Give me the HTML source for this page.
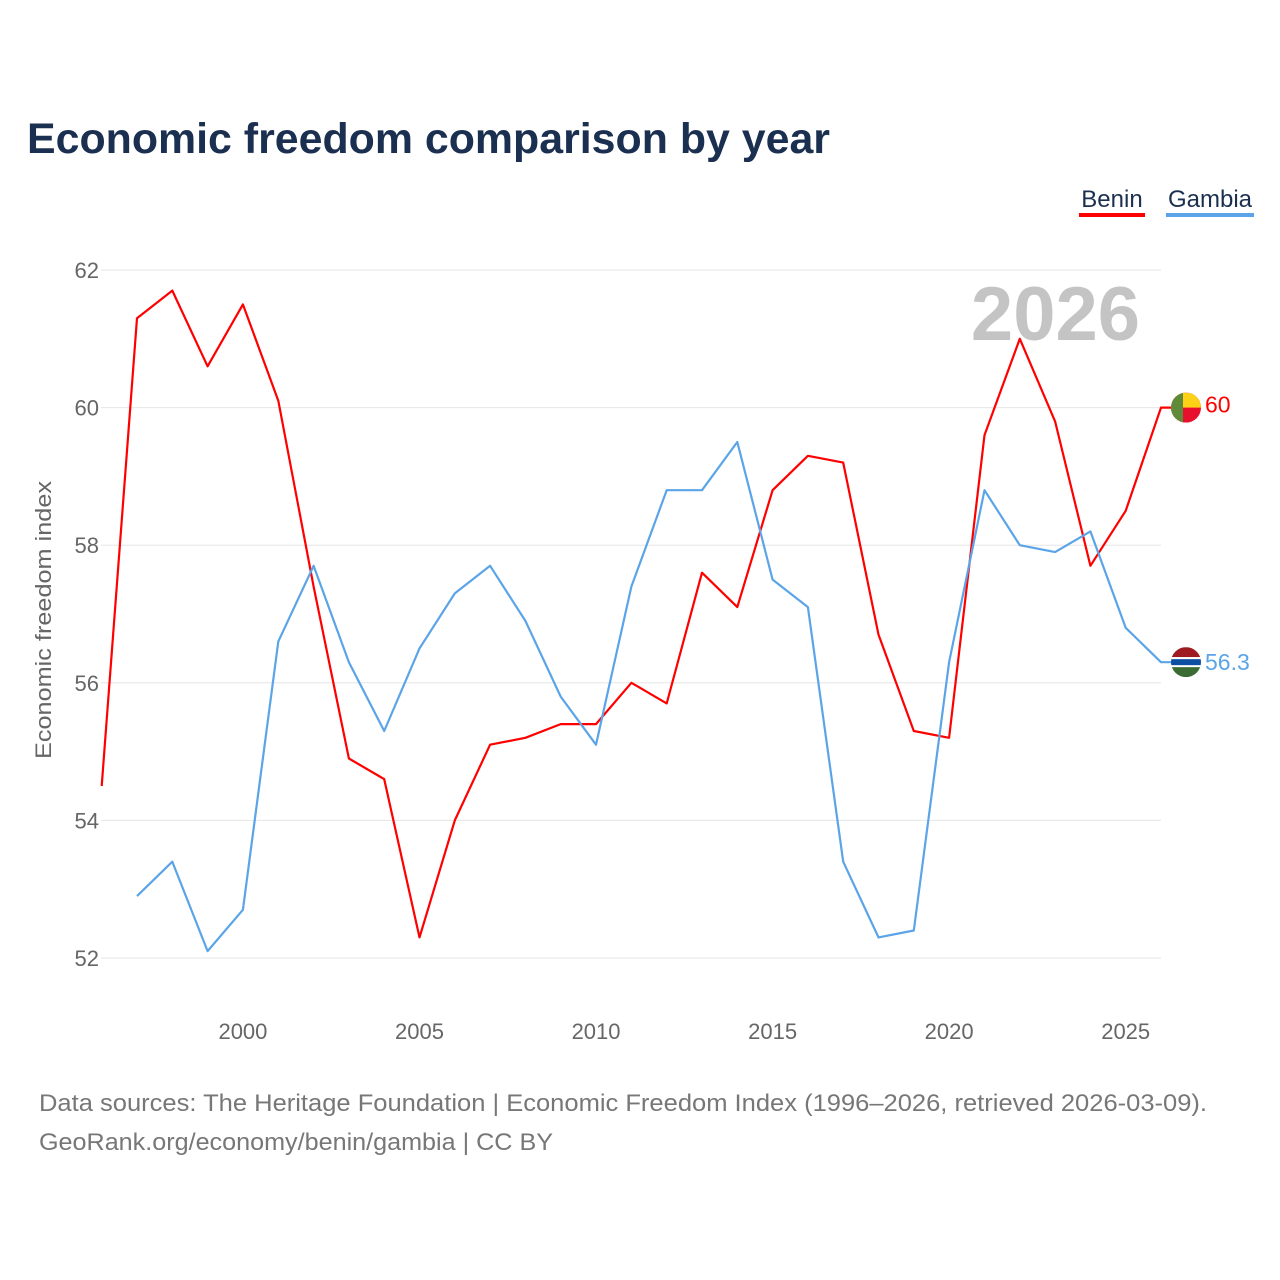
<!DOCTYPE html>
<html><head><meta charset="utf-8"><style>
html,body{margin:0;padding:0;background:#fff;}
body{width:1280px;height:1280px;position:relative;font-family:"Liberation Sans",sans-serif;overflow:hidden;}
</style></head><body>
<svg id="chart" width="1280" height="1280" xmlns="http://www.w3.org/2000/svg" style="position:absolute;left:0;top:0">
<text x="27" y="153" font-size="43" font-weight="bold" fill="#1b2f50" textLength="803" lengthAdjust="spacingAndGlyphs">Economic freedom comparison by year</text>
<g>
<text x="1112" y="207" font-size="24" fill="#1b2f50" text-anchor="middle">Benin</text>
<rect x="1079" y="213" width="66" height="4" fill="#f00"/>
<text x="1210" y="207" font-size="24" fill="#1b2f50" text-anchor="middle">Gambia</text>
<rect x="1166" y="213" width="88" height="4" fill="#5ba4e8"/>
</g>
<text transform="translate(51,620) rotate(-90)" font-size="22" fill="#666" text-anchor="middle" textLength="278" lengthAdjust="spacingAndGlyphs">Economic freedom index</text>
<text x="1140" y="340" font-size="76" font-weight="bold" fill="#c4c4c4" text-anchor="end">2026</text>
<g id="grid"></g><g id="xt"></g><g id="series"></g><g id="ends"></g>
<text x="39" y="1111" font-size="24" fill="#777" textLength="1168" lengthAdjust="spacingAndGlyphs">Data sources: The Heritage Foundation | Economic Freedom Index (1996–2026, retrieved 2026-03-09).</text>
<text x="39" y="1150" font-size="24" fill="#777" textLength="514" lengthAdjust="spacingAndGlyphs">GeoRank.org/economy/benin/gambia | CC BY</text>
</svg>
<script>
const years = [1996,1997,1998,1999,2000,2001,2002,2003,2004,2005,2006,2007,2008,2009,2010,2011,2012,2013,2014,2015,2016,2017,2018,2019,2020,2021,2022,2023,2024,2025,2026];
const benin = [54.5,61.3,61.7,60.6,61.5,60.1,57.4,54.9,54.6,52.3,54.0,55.1,55.2,55.4,55.4,56.0,55.7,57.6,57.1,58.8,59.3,59.2,56.7,55.3,55.2,59.6,61.0,59.8,57.7,58.5,60.0];
const gambia = [null,52.9,53.4,52.1,52.7,56.6,57.7,56.3,55.3,56.5,57.3,57.7,56.9,55.8,55.1,57.4,58.8,58.8,59.5,57.5,57.1,53.4,52.3,52.4,56.3,58.8,58.0,57.9,58.2,56.8,56.3];
const yTicks = [52,54,56,58,60,62];
const xTicks = [2000,2005,2010,2015,2020,2025];
const NS="http://www.w3.org/2000/svg";
const x = v => 101.7 + (v-1996)*(1161-101.7)/30;
const y = v => 958 - (v-52)*(958-270)/10;
function mk(tag, attrs, parent){const e=document.createElementNS(NS,tag);for(const k in attrs)e.setAttribute(k,attrs[k]);parent.appendChild(e);return e;}
const grid=document.getElementById('grid');
yTicks.forEach(t=>{
  const l=mk('line',{x1:101,x2:1161,y1:y(t),y2:y(t),stroke:'#e6e6e6','stroke-width':1},grid);
  
  
  const tx=mk('text',{x:99,y:y(t)+8,'font-size':22,fill:'#666','text-anchor':'end'},grid);
  tx.textContent=t;
  
  
});
const xt=document.getElementById('xt');
xTicks.forEach(t=>{
  const tx=mk('text',{x:x(t),y:1039,'font-size':22,fill:'#666','text-anchor':'middle'},xt);
  tx.textContent=t;
  
  
});
function line(vals,color,name){
  let d='';vals.forEach((v,i)=>{if(v==null)return;d+=(d?'L':'M')+x(years[i]).toFixed(1)+' '+y(v).toFixed(1);});
  const last=vals[vals.length-1];
  d+='L1172 '+y(last).toFixed(1);
  const p=mk('path',{d:d,fill:'none',stroke:color,'stroke-width':2.2,'stroke-linejoin':'round'},document.getElementById('series'));
  
  
}
line(benin,'#f00','benin-line');
line(gambia,'#5ba4e8','gambia-line');
const ends=document.getElementById('ends');
const bv=benin[benin.length-1], gv=gambia[gambia.length-1];
const bx=1186, by=y(bv);
const bg=mk('g',{},ends);


const cpb=mk('clipPath',{id:'cb'},bg);mk('circle',{cx:bx,cy:by,r:15},cpb);
mk('rect',{x:bx-15,y:by-15,width:30,height:30,fill:'#e8112d','clip-path':'url(#cb)'},bg);
mk('rect',{x:bx-15,y:by-15,width:30,height:15,fill:'#fcd116','clip-path':'url(#cb)'},bg);
mk('rect',{x:bx-15,y:by-15,width:12,height:30,fill:'#5f8a3a','clip-path':'url(#cb)'},bg);
const bt=mk('text',{x:1205,y:by+5,'font-size':23,fill:'#f00'},ends);bt.textContent=bv;


const gy=y(gv);
const gg=mk('g',{},ends);


const cp=mk('clipPath',{id:'cg'},gg);mk('circle',{cx:bx,cy:gy,r:15},cp);
mk('rect',{x:bx-15,y:gy-15,width:30,height:10,fill:'#9e1b22','clip-path':'url(#cg)'},gg);
mk('rect',{x:bx-15,y:gy-5,width:30,height:10,fill:'#fff','clip-path':'url(#cg)'},gg);
mk('rect',{x:bx-15,y:gy-3,width:30,height:6,fill:'#0c4ea2','clip-path':'url(#cg)'},gg);
mk('rect',{x:bx-15,y:gy+5,width:30,height:10,fill:'#3a6b32','clip-path':'url(#cg)'},gg);
const gt=mk('text',{x:1205,y:gy+8,'font-size':23,fill:'#5ba4e8'},ends);gt.textContent=gv;


</script>
</body></html>
